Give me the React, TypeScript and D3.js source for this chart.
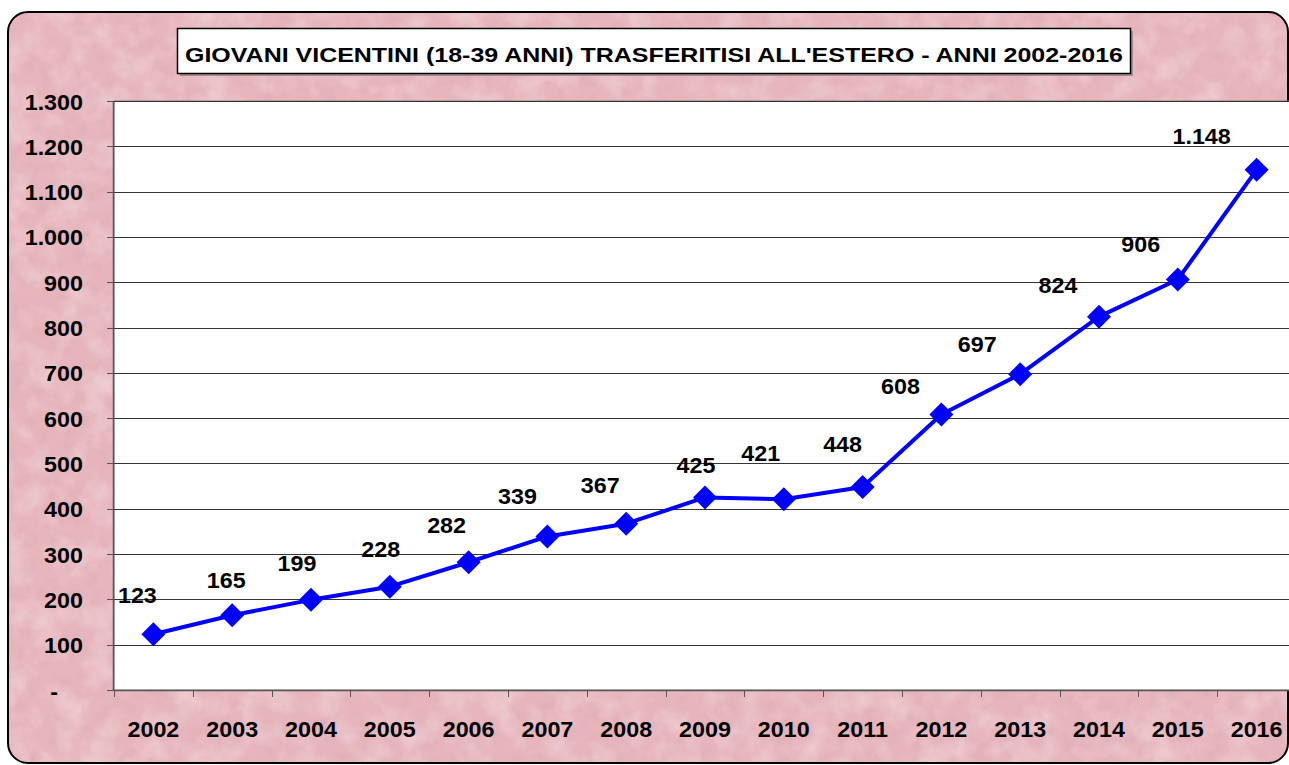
import React from "react";
import * as d3 from "d3";

const years: string[] = ["2002","2003","2004","2005","2006","2007","2008","2009","2010","2011","2012","2013","2014","2015","2016"];
const values: number[] = [123,165,199,228,282,339,367,425,421,448,608,697,824,906,1148];
const yTicks: number[] = [0,100,200,300,400,500,600,700,800,900,1000,1100,1200,1300];
const title = "GIOVANI VICENTINI (18-39 ANNI) TRASFERITISI ALL'ESTERO - ANNI 2002-2016";
// manual label nudges (layout only), [dx, dy] relative to the marker
const labelNudge: [number, number][] = [
  [-16,-31],[-6,-27],[-14,-29],[-9,-30],[-22,-29],[-30,-32],[-26,-31],
  [-9,-24],[-23,-38],[-20,-35],[-41,-21],[-43,-22],[-41,-24],[-37,-28],[-55,-26]
];

const W = 1289, H = 765;
const PL = 114, PR = 1296, PT = 101, PB = 690;
const FONT = "'Liberation Sans', Arial, Helvetica, sans-serif";
const SX = 1.06;

const fmt = (v: number) => {
  if (v === 0) return "-";
  return d3.format(",")(v).replace(/,/g, ".");
};

export default function App() {
  const x = d3.scaleBand<string>().domain(years).range([PL, PR]).padding(0);
  const y = d3.scaleLinear().domain([0, 1300]).range([PB, PT]);
  const cx = (yr: string) => (x(yr) as number) + x.bandwidth() / 2;
  const line = d3.line<number>().x((_, i) => cx(years[i])).y((d) => y(d));
  const diamond = "M0,-12L12,0L0,12L-12,0Z";

  const T = (props: { x: number; y: number; anchor: string; size: number; children: React.ReactNode }) => (
    <g transform={`translate(${props.x},${props.y}) scale(${SX},1)`}>
      <text x={0} y={0} textAnchor={props.anchor as any} fontFamily={FONT} fontWeight="bold" fontSize={props.size} fill="#000">
        {props.children}
      </text>
    </g>
  );

  return (
    <svg width={W} height={H} style={{ position: "absolute", left: 0, top: 0 }} xmlns="http://www.w3.org/2000/svg">
      <defs>
        <filter id="marble" x="0" y="0" width="100%" height="100%">
          <feTurbulence type="fractalNoise" baseFrequency="0.035" numOctaves="4" seed="7" result="n" />
          <feColorMatrix in="n" type="matrix"
            values="0 0 0 0 1  0 0 0 0 1  0 0 0 0 1  1.1 0 0 0 -0.45" result="w" />
          <feComposite in="w" in2="SourceGraphic" operator="in" result="wc" />
          <feMerge>
            <feMergeNode in="SourceGraphic" />
            <feMergeNode in="wc" />
          </feMerge>
        </filter>
        <filter id="marble2" x="0" y="0" width="100%" height="100%">
          <feTurbulence type="fractalNoise" baseFrequency="0.08" numOctaves="3" seed="2" result="n" />
          <feColorMatrix in="n" type="matrix"
            values="0 0 0 0 0.6  0 0 0 0 0.35  0 0 0 0 0.4  0 1.2 0 0 -0.55" result="d" />
          <feComposite in="d" in2="SourceGraphic" operator="in" result="dc" />
          <feMerge>
            <feMergeNode in="SourceGraphic" />
            <feMergeNode in="dc" />
          </feMerge>
        </filter>
        <clipPath id="frameClip">
          <rect x={8} y={12} width={1280} height={751} rx={20} ry={20} />
        </clipPath>
      </defs>
      <rect x={0} y={0} width={W} height={H} fill="#ffffff" />
      <g clipPath="url(#frameClip)">
        <rect x={8} y={12} width={1280} height={751} fill="#E6B3BA" filter="url(#marble2)" />
      </g>
      <rect x={8} y={12} width={1280} height={751} rx={20} ry={20} fill="#E8B6BD" filter="url(#marble)" opacity={0.55} clipPath="url(#frameClip)" />
      <rect x={8} y={12} width={1280} height={751} rx={20} ry={20} fill="none" stroke="#000" strokeWidth={2} />

      {/* title box */}
      <rect x={180} y={31} width={953} height={45} fill="#7a6a6c" opacity={0.6} />
      <rect x={177.5} y={28.5} width={953} height={45} fill="#fff" stroke="#000" strokeWidth={1.5} />
      <text x={185} y={62} fontFamily={FONT} fontWeight="bold" fontSize={21} textLength={938} lengthAdjust="spacingAndGlyphs" fill="#000">
        {title}
      </text>

      {/* plot area */}
      <rect x={PL} y={PT} width={PR - PL} height={PB - PT} fill="#fff" stroke="#808080" strokeWidth={1} />
      {yTicks.filter((t) => t > 0).map((t) => (
        <line key={"g" + t} x1={PL} x2={PR} y1={Math.round(y(t)) + 0.5} y2={Math.round(y(t)) + 0.5} stroke="#333" strokeWidth={1} />
      ))}
      {/* axes */}
      <line x1={PL - 0.5} x2={PL - 0.5} y1={PT} y2={PB} stroke="#555" strokeWidth={1.5} />
      <line x1={PL} x2={PR} y1={PB + 0.5} y2={PB + 0.5} stroke="#555" strokeWidth={1.5} />
      {yTicks.map((t) => (
        <line key={"yt" + t} x1={PL - 7} x2={PL} y1={Math.round(y(t)) + 0.5} y2={Math.round(y(t)) + 0.5} stroke="#555" strokeWidth={1} />
      ))}
      {years.map((yr) => (
        <line key={"xt" + yr} x1={Math.round(x(yr) as number) + 0.5} x2={Math.round(x(yr) as number) + 0.5} y1={PB} y2={PB + 7} stroke="#555" strokeWidth={1} />
      ))}
      {yTicks.map((t) => (
        <T key={"yl" + t} x={t === 0 ? 58 : 83} y={y(t) + 8.5} anchor="end" size={22}>{fmt(t)}</T>
      ))}
      {years.map((yr) => (
        <T key={"xl" + yr} x={cx(yr)} y={737} anchor="middle" size={22}>{yr}</T>
      ))}

      {/* series */}
      <path d={line(values) || ""} fill="none" stroke="#0000FF" strokeWidth={4} strokeLinejoin="round" />
      {values.map((v, i) => (
        <path key={"m" + i} d={diamond} transform={`translate(${cx(years[i])},${y(v)})`} fill="#0000FF" />
      ))}
      {values.map((v, i) => (
        <T key={"dl" + i} x={cx(years[i]) + labelNudge[i][0]} y={y(v) + labelNudge[i][1]} anchor="middle" size={22}>{fmt(v)}</T>
      ))}
    </svg>
  );
}
